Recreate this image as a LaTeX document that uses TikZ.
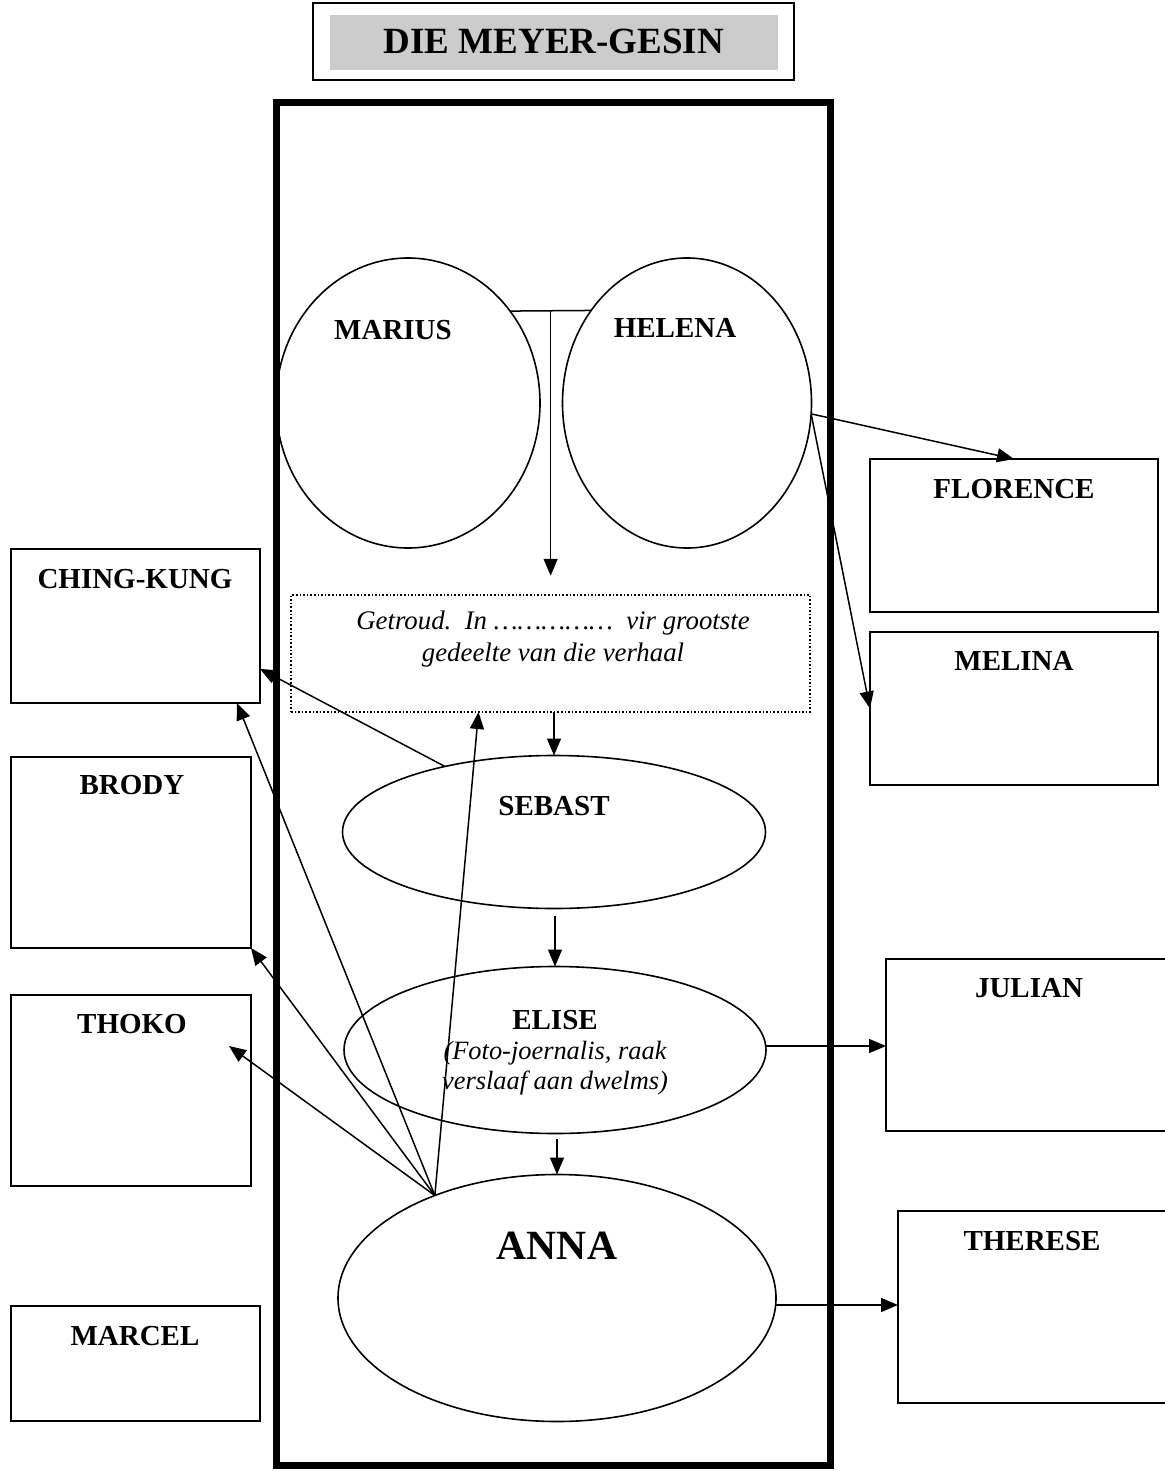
\documentclass[tikz,border=0pt]{standalone}
\usepackage{fontspec}
\setmainfont{Liberation Serif}
\usepackage{xcolor}
\definecolor{titlegray}{RGB}{204,204,204}
\usetikzlibrary{shapes.geometric,arrows.meta,calc}

\tikzset{
  namebox/.style={draw, line width=0.9pt, inner sep=0pt, outer sep=0pt, anchor=north west},
  person/.style={draw, ellipse, line width=0.8pt, inner sep=0pt, outer sep=0pt},
  nametext/.style={font=\bfseries\fontsize{14.5}{17}\selectfont},
  remark/.style={font=\itshape\fontsize{13.4}{16}\selectfont, align=center},
  link/.style={line width=0.75pt, -{Triangle[length=8.5pt,width=7pt]}},
}

\begin{document}
\begin{tikzpicture}[x=0.5pt, y=-0.5pt]
  \useasboundingbox (0,0) rectangle (1164,1471);

  % title
  \draw[line width=0.9pt] (313,3) rectangle (794,80);
  \fill[titlegray] (330,15) rectangle (778,70);
  \node[font=\bfseries\fontsize{18.5}{22}\selectfont] (title) at (554,41) {DIE MEYER-GESIN};

  % family frame
  \draw[line width=3.5pt] (276,103) rectangle (830,1465);

  % the family itself
  \node[person, minimum width=132pt, minimum height=145pt] (marius) at (408,403) {};
  \node[person, minimum width=124.5pt, minimum height=145pt] (helena) at (687,403) {};
  \node[person, minimum width=211.5pt, minimum height=76.5pt] (sebast) at (554,832) {};
  \node[person, minimum width=211pt, minimum height=83.5pt] (elise) at (555,1050) {};
  \node[person, minimum width=219pt, minimum height=123.5pt] (anna) at (557,1298) {};
  \node[draw, densely dotted, line width=0.8pt, inner sep=0pt, outer sep=0pt, anchor=north west,
        minimum width=259.5pt, minimum height=58.5pt] (note) at (291,595) {};

  \node[nametext] at (393,330) {MARIUS};
  \node[nametext] at (675,328) {HELENA};
  \node[nametext] at (554,806) {SEBAST};
  \node[nametext] at (555,1020) {ELISE};
  \node[font=\bfseries\fontsize{20.8}{24}\selectfont] at (557,1246) {ANNA};
  \node[remark] at (553,639) {Getroud.\ \ In ……………\ \ vir grootste\\gedeelte van die verhaal};
  \node[remark, font=\itshape\fontsize{13.2}{15}\selectfont] at (555,1068) {(Foto-joernalis, raak\\verslaaf aan dwelms)};

  % the others
  \node[namebox, minimum width=124.5pt, minimum height=77pt] (chingkung) at (11,549) {};
  \node[namebox, minimum width=120pt, minimum height=95.5pt] (brody) at (11,757) {};
  \node[namebox, minimum width=120pt, minimum height=95.5pt] (thoko) at (11,995) {};
  \node[namebox, minimum width=124.5pt, minimum height=57.5pt] (marcel) at (11,1306) {};
  \node[namebox, minimum width=144pt, minimum height=76.5pt] (florence) at (870,459) {};
  \node[namebox, minimum width=144pt, minimum height=76.5pt] (melina) at (870,632) {};
  \node[namebox, minimum width=150pt, minimum height=86pt] (julian) at (886,959) {};
  \node[namebox, minimum width=140pt, minimum height=96pt] (therese) at (898,1211) {};

  \node[nametext] at (135,579) {CHING-KUNG};
  \node[nametext] at (132,785) {BRODY};
  \node[nametext] at (132,1024) {THOKO};
  \node[nametext] at (135,1336) {MARCEL};
  \node[nametext] at (1014,489) {FLORENCE};
  \node[nametext] at (1014,661) {MELINA};
  \node[nametext] at (1029,988) {JULIAN};
  \node[nametext] at (1032,1241) {THERESE};

  % marriage and children
  \draw[line width=0.75pt] (marius.42) -- (helena.136);
  \coordinate (wed) at ($(marius.42)!0.5!(helena.136)$);
  \draw[link] (wed) -- ++(0,265);
  \draw[link] (note.south -| sebast.north) -- (sebast.north);
  \draw[link] ([yshift=-3.5pt]sebast.south -| elise.north) -- (elise.north);
  \draw[link] ([yshift=-2.5pt]elise.south -| anna.north) -- (anna.north);

  % helena's sisters
  \draw[link] (helena.-5) -- (florence.north);
  \draw[link] (helena.-5) -- (melina.west);

  % outward links
  \draw[link] (sebast.149) -- (chingkung.-19.5);
  \draw[link] ([yshift=2pt]elise.east) -- ([yshift=2pt]elise.east -| julian.west);
  \draw[link] ([yshift=-3.5pt]anna.east) -- ([yshift=-3.5pt]anna.east -| therese.west);

  % anna's links
  \coordinate (fan) at (anna.140);
  \coordinate (thokotip) at ($(thoko.north east)+(-22,51)$);
  \draw[link] (fan) -- ([xshift=-11.5pt]chingkung.south east);
  \draw[link] (fan) -- (brody.south east);
  \draw[link] (fan) -- (thokotip);
  \draw[link] (fan) -- ([xshift=-36pt]note.south);
\end{tikzpicture}
\end{document}
